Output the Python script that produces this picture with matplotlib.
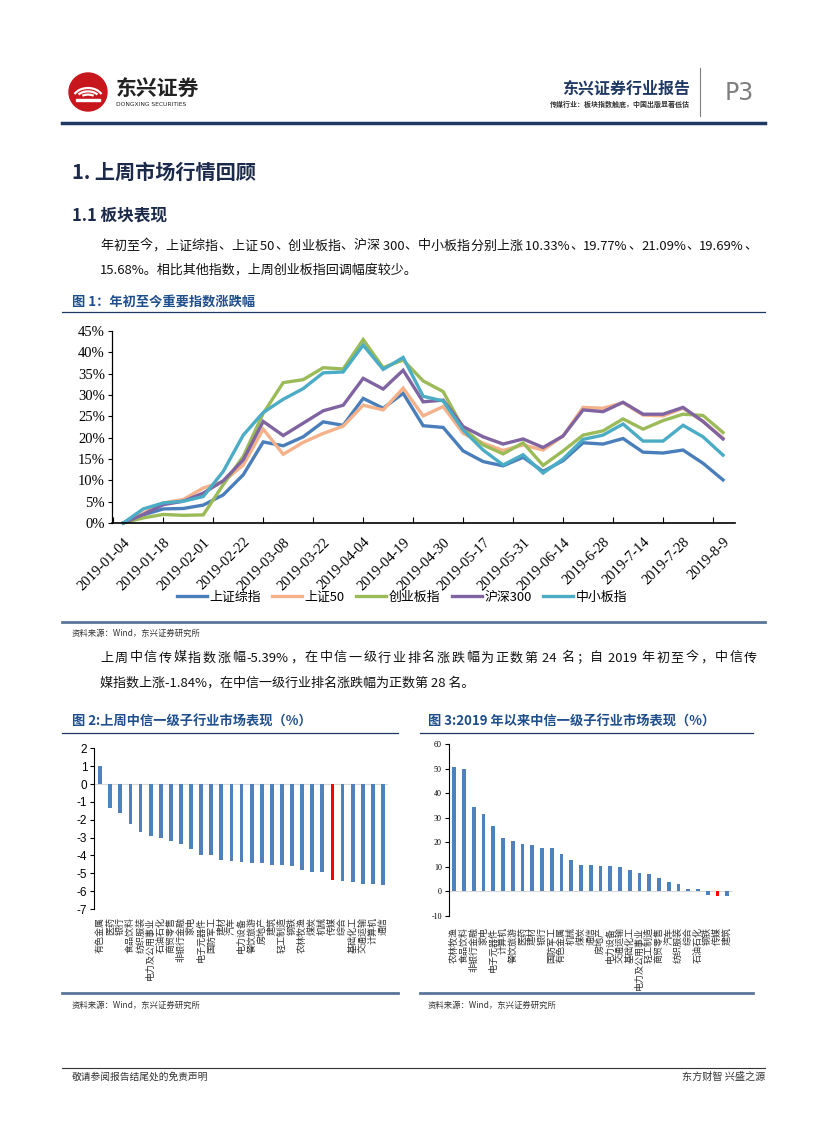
import re
import numpy as np
import matplotlib
matplotlib.use('Agg')
import matplotlib.pyplot as plt
from matplotlib.lines import Line2D
from matplotlib import patches

plt.rcParams['font.family'] = ['Noto Sans CJK SC', 'DejaVu Sans']
plt.rcParams['axes.unicode_minus'] = False

# ---- chart 1 data: weekly ytd change (%) ----
dates = ['2019-01-04', '2019-01-18', '2019-02-01', '2019-02-22', '2019-03-08', '2019-03-22',
         '2019-04-04', '2019-04-19', '2019-04-30', '2019-05-17', '2019-05-31', '2019-06-14',
         '2019-6-28', '2019-7-14', '2019-7-28', '2019-8-9']
sh_comp = [0, 1.9, 3.3, 3.4, 4.2, 6.6, 11.3, 19.0, 18.1, 20.2, 23.7, 22.9, 29.2, 26.9, 30.4, 22.8,
           22.4, 16.9, 14.4, 13.4, 15.4, 12.1, 14.6, 18.8, 18.5, 19.8, 16.6, 16.4, 17.1, 14.0, 10.1]
sh50 = [0, 2.3, 4.7, 5.5, 8.2, 9.7, 13.6, 22.0, 16.1, 18.9, 21.0, 22.7, 27.6, 26.5, 31.6, 25.1,
        27.3, 21.0, 18.7, 17.0, 18.3, 17.1, 20.4, 27.1, 26.9, 28.2, 25.3, 25.1, 26.9, 23.8, 19.9]
chinext = [0, 1.2, 2.0, 1.8, 1.9, 9.0, 15.6, 25.7, 32.9, 33.6, 36.4, 36.1, 43.0, 36.4, 38.2, 33.3,
           30.8, 22.2, 18.3, 16.2, 18.8, 13.5, 16.9, 20.6, 21.6, 24.4, 22.0, 24.0, 25.5, 25.2, 21.2]
hs300 = [0, 2.0, 4.3, 5.1, 7.0, 9.9, 14.8, 23.8, 20.5, 23.4, 26.3, 27.6, 33.9, 31.4, 35.8, 28.4,
         28.8, 22.6, 20.2, 18.5, 19.7, 17.7, 20.4, 26.5, 26.1, 28.3, 25.5, 25.5, 27.1, 23.8, 19.7]
sme = [0, 3.3, 4.7, 5.1, 6.2, 12.1, 20.6, 25.9, 29.0, 31.5, 35.2, 35.4, 41.7, 36.0, 38.8, 29.7,
       28.6, 21.8, 17.1, 13.6, 16.0, 11.7, 15.0, 19.6, 20.6, 23.2, 19.2, 19.2, 22.9, 20.2, 15.9]
series_names = ['上证综指', '上证50', '创业板指', '沪深300', '中小板指']
series_colors = ['#4A7EBB', '#F5B28A', '#9BBB59', '#8064A2', '#4BACC6']

# ---- chart 2 data: last week (%) ----
week_names = ['有色金属', '医药', '银行', '食品饮料', '纺织服装', '电力及公用事业', '石油石化',
              '商贸零售', '非银行金融', '家电', '电子元器件', '国防军工', '建材', '汽车',
              '电力设备', '餐饮旅游', '房地产', '建筑', '轻工制造', '钢铁', '农林牧渔', '煤炭',
              '机械', '传媒', '综合', '基础化工', '交通运输', '计算机', '通信']
week_vals = [1.0, -1.35, -1.65, -2.25, -2.7, -2.9, -3.0, -3.2, -3.35, -3.65, -4.0, -4.0, -4.25,
             -4.3, -4.35, -4.4, -4.45, -4.55, -4.55, -4.6, -4.8, -4.9, -4.95, -5.39, -5.45,
             -5.5, -5.6, -5.6, -5.65]

# ---- chart 3 data: ytd (%) ----
ytd_names = ['农林牧渔', '食品饮料', '非银行金融', '家电', '电子元器件', '计算机', '餐饮旅游',
             '医药', '建材', '银行', '国防军工', '有色金属', '机械', '煤炭', '通信', '房地产',
             '电力设备', '交通运输', '基础化工', '电力及公用事业', '轻工制造', '商贸零售', '汽车',
             '纺织服装', '综合', '石油石化', '钢铁', '传媒', '建筑']
ytd_vals = [50.5, 50.0, 34.5, 31.5, 26.5, 21.8, 20.5, 19.2, 18.7, 17.8, 17.5, 15.3, 12.8, 10.8,
            10.8, 10.2, 10.2, 9.8, 8.5, 7.5, 7.2, 5.5, 3.8, 3.0, 0.8, 0.8, -1.5, -1.84, -2.0]

para1 = ['年初至今，上证综指、上证 50、创业板指、沪深 300、中小板指分别上涨 10.33%、19.77%、21.09%、19.69%、',
         '15.68%。相比其他指数，上周创业板指回调幅度较少。']
para2 = ['上周中信传媒指数涨幅-5.39%，在中信一级行业排名涨跌幅为正数第 24 名；自 2019 年初至今，中信传',
         '媒指数上涨-1.84%，在中信一级行业排名涨跌幅为正数第 28 名。']

W, H = 827, 1122
fig = plt.figure(figsize=(W / 100, H / 100), dpi=100)
renderer = fig.canvas.get_renderer()


def fx(x):
    return x / W


def fy(y):
    return 1 - y / H


def hline(x0, x1, y, color, lw):
    fig.add_artist(Line2D([fx(x0), fx(x1)], [fy(y), fy(y)], color=color, lw=lw,
                          transform=fig.transFigure))


def ftext(x, y, s, **kw):
    kw.setdefault('va', 'center')
    return fig.text(fx(x), fy(y), s, **kw)


def justified(x0, x1, y, s, **kw):
    # spread the line over x0..x1 like a justified paragraph line
    tokens = re.findall(r'[\x00-\x7f]+|.', s)
    texts = [ftext(x0, y, t, **kw) for t in tokens]
    widths = [t.get_window_extent(renderer).width for t in texts]
    gap = (x1 - x0 - sum(widths)) / (len(tokens) - 1)
    pos = x0
    for t, w in zip(texts, widths):
        t.set_x(fx(pos))
        pos += w + gap


def axes_px(x0, x1, ytop, ybot):
    return fig.add_axes([fx(x0), fy(ybot), (x1 - x0) / W, (ybot - ytop) / H])


navy = '#1F3864'
title_blue = '#1F4E8C'
body = dict(fontsize=9.4, color='#111111')

# ---- header ----
logo = fig.add_axes([fx(68), fy(112), 40 / W, 40 / H])
logo.set_xlim(-1, 1)
logo.set_ylim(-1, 1)
logo.set_aspect('equal')
logo.axis('off')
logo.add_patch(patches.Circle((0, 0), 0.95, color='#C8161D'))
for r, t1, t2 in [(0.55, 20, 160), (0.38, 25, 155), (0.22, 30, 150)]:
    logo.add_patch(patches.Arc((0, -0.35), 2 * r + 0.4, 2 * r, theta1=t1, theta2=t2,
                               color='white', lw=1.6))
logo.add_patch(patches.Rectangle((-0.6, -0.45), 1.2, 0.1, color='white'))
ftext(116, 88, '东兴证券', fontsize=15, fontweight='bold', color='#222222')
ftext(116, 105, 'DONGXING SECURITIES', fontsize=4.3, color='#222222', family='DejaVu Sans')

ftext(690, 88, '东兴证券行业报告', fontsize=11.5, fontweight='bold', color=navy, ha='right')
ftext(690, 104, '传媒行业：板块指数触底，中国出版显著低估', fontsize=5, fontweight='bold',
      color='#333333', ha='right')
fig.add_artist(Line2D([fx(700), fx(700)], [fy(68), fy(116)], color='#7F7F7F', lw=0.8,
                      transform=fig.transFigure))
ftext(725, 93, 'P3', fontsize=17, color='#7F7F7F', family='DejaVu Sans')
hline(62, 765, 123, navy, 2.5)

# ---- section titles and paragraphs ----
ftext(72, 172, '1. 上周市场行情回顾', fontsize=14.5, fontweight='bold', color='#1B2A4A')
ftext(72, 215, '1.1 板块表现', fontsize=12, fontweight='bold', color='#1B2A4A')
justified(100, 757, 246, para1[0], **body)
ftext(100, 270, para1[1], **body)

ftext(72, 302, '图 1：年初至今重要指数涨跌幅', fontsize=9.5, fontweight='bold', color=title_blue)
hline(62, 765, 312, navy, 0.9)

# ---- chart 1 ----
ax1 = axes_px(111.7, 735, 331, 523)
x = np.arange(len(sh_comp))
for vals, name, c in zip([sh_comp, sh50, chinext, hs300, sme], series_names, series_colors):
    ax1.plot(x, np.array(vals) / 100, color=c, lw=2.4, label=name, clip_on=False,
             solid_joinstyle='miter')
ax1.set_xlim(-0.58, 30.6)
ax1.set_ylim(0, 0.45)
ax1.set_yticks(np.arange(0, 0.46, 0.05))
ax1.set_yticklabels([f'{int(round(v * 100))}%' for v in np.arange(0, 0.46, 0.05)],
                    family='Liberation Serif', fontsize=10.5)
ax1.xaxis.remove_overlapping_locs = False
ax1.set_xticks(np.arange(-0.5, 31, 2.5))
ax1.set_xticklabels([])
ax1.set_xticks(np.arange(0, 31, 2), minor=True)
ax1.set_xticklabels(dates, minor=True, rotation=45, ha='right', rotation_mode='anchor',
                    family='Liberation Serif', fontsize=10.5)
ax1.tick_params(axis='x', which='major', direction='in', length=4, width=0.8)
ax1.tick_params(axis='x', which='minor', length=0, pad=9)
ax1.tick_params(axis='y', direction='out', length=3, width=0.8, pad=2)
for s in ['top', 'right']:
    ax1.spines[s].set_visible(False)
ax1.spines['left'].set_linewidth(0.9)
ax1.spines['bottom'].set_linewidth(1.2)
ax1.legend(loc='center', bbox_to_anchor=(fx(402), fy(597)), bbox_transform=fig.transFigure,
           ncol=5, frameon=False, fontsize=9.3, handlelength=2.3, handletextpad=0.2,
           columnspacing=0.9, borderaxespad=0)

hline(62, 765, 622, '#5A7599', 2.0)
ftext(72, 633, '资料来源：Wind，东兴证券研究所', fontsize=6, style='italic', color='#333333')

justified(100, 757, 658, para2[0], **body)
ftext(100, 683, para2[1], **body)

# ---- chart 2 ----
ftext(72, 722, '图 2:上周中信一级子行业市场表现（%）', fontsize=9.5, fontweight='bold', color=title_blue)
hline(62, 398, 733, navy, 0.9)
ax2 = axes_px(94.3, 388, 748.3, 909)
x2 = np.arange(len(week_vals))
c2 = ['#FF0000' if n == '传媒' else '#4F81BD' for n in week_names]
ax2.bar(x2, week_vals, width=0.38, color=c2)
ax2.axhline(0, color='#D9D9D9', lw=0.8, zorder=0)
ax2.set_xlim(-0.58, 28.5)
ax2.set_ylim(-7, 2)
ax2.set_yticks(range(-7, 3))
ax2.set_yticklabels([str(v) for v in range(-7, 3)], family='Liberation Sans', fontsize=8.5)
ax2.set_xticks(x2)
ax2.set_xticklabels(week_names, rotation=90, fontsize=6.5, color='#333333')
ax2.tick_params(axis='x', length=0, pad=6)
ax2.tick_params(axis='y', length=3, width=0.8, pad=2)
for s in ['top', 'right', 'bottom']:
    ax2.spines[s].set_visible(False)
hline(62, 398, 993, '#5A7599', 2.0)
ftext(72, 1005, '资料来源：Wind，东兴证券研究所', fontsize=6, style='italic', color='#333333')

# ---- chart 3 ----
ftext(428, 722, '图 3:2019 年以来中信一级子行业市场表现（%）', fontsize=9.5, fontweight='bold',
      color=title_blue)
hline(420, 753, 733, navy, 0.9)
ax3 = axes_px(448.7, 733, 744, 915.7)
x3 = np.arange(len(ytd_vals))
c3 = ['#FF0000' if n == '传媒' else '#4F81BD' for n in ytd_names]
ax3.bar(x3, ytd_vals, width=0.38, color=c3)
ax3.axhline(0, color='#D9D9D9', lw=0.8, zorder=0)
ax3.set_xlim(-0.58, 28.6)
ax3.set_ylim(-10, 60)
ax3.set_yticks(range(-10, 61, 10))
ax3.set_yticklabels([str(v) for v in range(-10, 61, 10)], family='Liberation Serif', fontsize=5.8)
ax3.set_xticks(x3)
ax3.set_xticklabels(ytd_names, rotation=90, fontsize=6.5, color='#333333')
ax3.tick_params(axis='x', length=0, pad=8)
ax3.tick_params(axis='y', length=3, width=0.8, pad=2)
for s in ['top', 'right', 'bottom']:
    ax3.spines[s].set_visible(False)
hline(420, 753, 993, '#5A7599', 2.0)
ftext(428, 1005, '资料来源：Wind，东兴证券研究所', fontsize=6, style='italic', color='#333333')

# ---- footer ----
hline(62, 765, 1068, '#333333', 0.8)
ftext(72, 1077, '敬请参阅报告结尾处的免责声明', fontsize=7, color='#333333')
ftext(765, 1077, '东方财智 兴盛之源', fontsize=7.3, color='#333333', ha='right')

fig.savefig('out.png', dpi=100)
